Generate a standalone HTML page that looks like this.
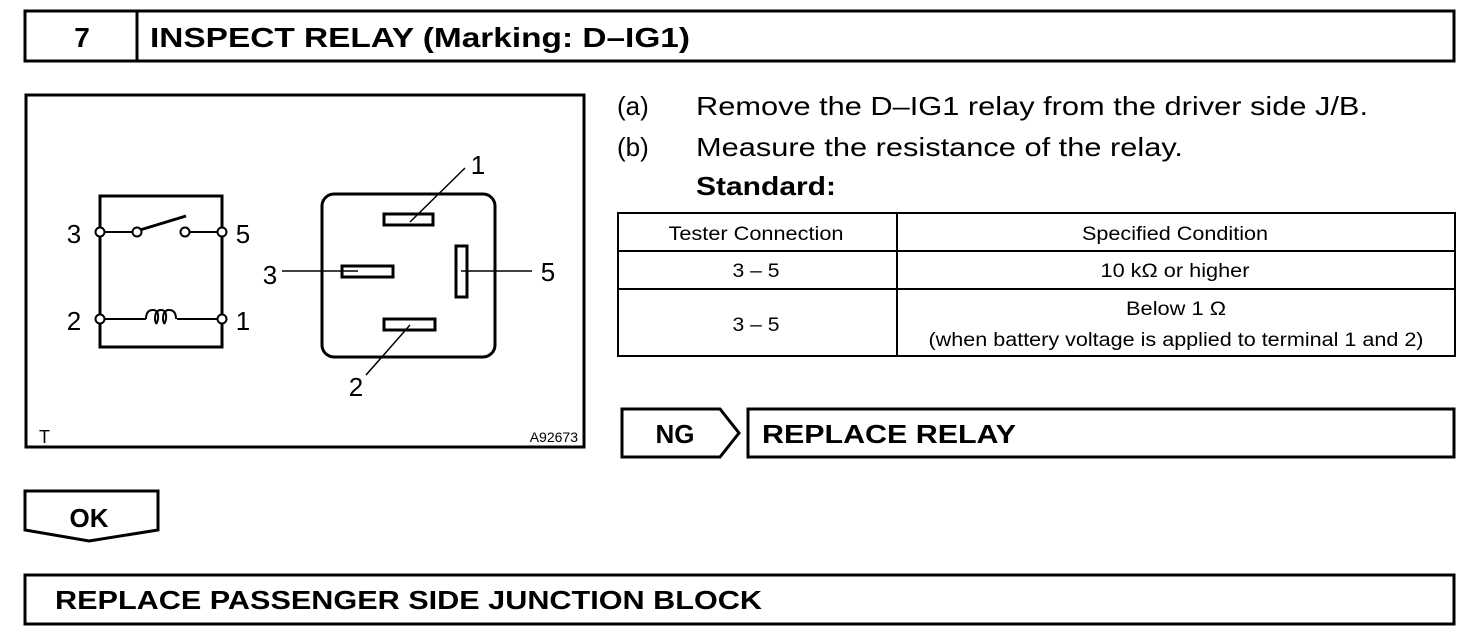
<!DOCTYPE html>
<html><head><meta charset="utf-8"><style>html,body{margin:0;padding:0;background:#fff}svg{display:block}</style></head>
<body>
<svg width="1472" height="644" viewBox="0 0 1472 644" xmlns="http://www.w3.org/2000/svg" font-family="Liberation Sans, Arial, sans-serif" fill="none" stroke="#000">
<rect x="25" y="11" width="1429" height="50" stroke-width="3"/>
<line x1="137" y1="11" x2="137" y2="61" stroke-width="3"/>
<g fill="#000" stroke="none" font-weight="bold" font-size="28">
<text x="82" y="47" text-anchor="middle">7</text>
<text x="150" y="47" textLength="540" lengthAdjust="spacingAndGlyphs">INSPECT RELAY (Marking: D–IG1)</text>
</g>
<rect x="26" y="95" width="558" height="352" stroke-width="3"/>
<rect x="100" y="196" width="122" height="151" stroke-width="3"/>
<g stroke-width="2">
<line x1="100" y1="232" x2="133" y2="232"/>
<line x1="189" y1="232" x2="222" y2="232"/>
<line x1="140" y1="230" x2="186" y2="216" stroke-width="3"/>
<line x1="100" y1="319" x2="146" y2="319"/>
<line x1="177" y1="319" x2="222" y2="319"/>
<path d="M146 319 q0 -9 7 -9 q6 0 5 9 q-2 9 -3 0 q0 -9 6 -9 q6 0 5 9 q-2 9 -3 0 q0 -9 6 -9 q7 0 7 9"/>
</g>
<g fill="#fff" stroke-width="2">
<circle cx="100" cy="232" r="4.5"/><circle cx="222" cy="232" r="4.5"/>
<circle cx="137" cy="232" r="4.5"/><circle cx="185" cy="232" r="4.5"/>
<circle cx="100" cy="319" r="4.5"/><circle cx="222" cy="319" r="4.5"/>
</g>
<g fill="#000" stroke="none" font-size="26">
<text x="74" y="243" text-anchor="middle">3</text>
<text x="243" y="243" text-anchor="middle">5</text>
<text x="74" y="330" text-anchor="middle">2</text>
<text x="243" y="330" text-anchor="middle">1</text>
</g>
<rect x="322" y="194" width="173" height="163" rx="12" stroke-width="3"/>
<g stroke-width="3">
<rect x="384" y="214" width="49" height="11"/>
<rect x="342" y="266" width="51" height="11"/>
<rect x="456" y="246" width="11" height="51"/>
<rect x="384" y="319" width="51" height="11"/>
</g>
<g stroke-width="1.5">
<line x1="410" y1="222" x2="465" y2="168"/>
<line x1="282" y1="271" x2="358" y2="271"/>
<line x1="461" y1="271" x2="532" y2="271"/>
<line x1="410" y1="325" x2="366" y2="375"/>
</g>
<g fill="#000" stroke="none" font-size="26">
<text x="478" y="174" text-anchor="middle">1</text>
<text x="270" y="284" text-anchor="middle">3</text>
<text x="548" y="281" text-anchor="middle">5</text>
<text x="356" y="396" text-anchor="middle">2</text>
<text x="39" y="443" font-size="18">T</text>
<text x="578" y="442" font-size="14" text-anchor="end">A92673</text>
</g>
<g fill="#000" stroke="none" font-size="26">
<text x="617" y="115">(a)</text>
<text x="696" y="115" textLength="672" lengthAdjust="spacingAndGlyphs">Remove the D–IG1 relay from the driver side J/B.</text>
<text x="617" y="156">(b)</text>
<text x="696" y="156" textLength="487" lengthAdjust="spacingAndGlyphs">Measure the resistance of the relay.</text>
<text x="696" y="195" font-weight="bold" textLength="140" lengthAdjust="spacingAndGlyphs">Standard:</text>
</g>
<g stroke-width="2">
<rect x="618" y="213" width="837" height="143"/>
<line x1="897" y1="213" x2="897" y2="356"/>
<line x1="618" y1="251" x2="1455" y2="251"/>
<line x1="618" y1="289" x2="1455" y2="289"/>
</g>
<g fill="#000" stroke="none" font-size="19" text-anchor="middle">
<text x="756" y="240" textLength="175" lengthAdjust="spacingAndGlyphs">Tester Connection</text>
<text x="1175" y="240" textLength="186" lengthAdjust="spacingAndGlyphs">Specified Condition</text>
<text x="756" y="277" textLength="47" lengthAdjust="spacingAndGlyphs">3 – 5</text>
<text x="1175" y="277" textLength="149" lengthAdjust="spacingAndGlyphs">10 kΩ or higher</text>
<text x="756" y="331" textLength="47" lengthAdjust="spacingAndGlyphs">3 – 5</text>
<text x="1176" y="315" textLength="100" lengthAdjust="spacingAndGlyphs">Below 1 Ω</text>
<text x="1176" y="346" textLength="495" lengthAdjust="spacingAndGlyphs">(when battery voltage is applied to terminal 1 and 2)</text>
</g>
<path d="M622 409 H720 L739 433 L720 457 H622 Z" stroke-width="3"/>
<rect x="748" y="409" width="706" height="48" stroke-width="3"/>
<g fill="#000" stroke="none" font-weight="bold" font-size="26">
<text x="675" y="443" text-anchor="middle">NG</text>
<text x="762" y="443" textLength="254" lengthAdjust="spacingAndGlyphs">REPLACE RELAY</text>
</g>
<path d="M25 491 H158 V530 L89 541 L25 530 Z" stroke-width="3"/>
<text x="89" y="527" fill="#000" stroke="none" font-weight="bold" font-size="26" text-anchor="middle">OK</text>
<rect x="25" y="575" width="1429" height="49" stroke-width="3"/>
<text x="55" y="609" fill="#000" stroke="none" font-weight="bold" font-size="26" textLength="707" lengthAdjust="spacingAndGlyphs">REPLACE PASSENGER SIDE JUNCTION BLOCK</text>
</svg>
</body></html>
